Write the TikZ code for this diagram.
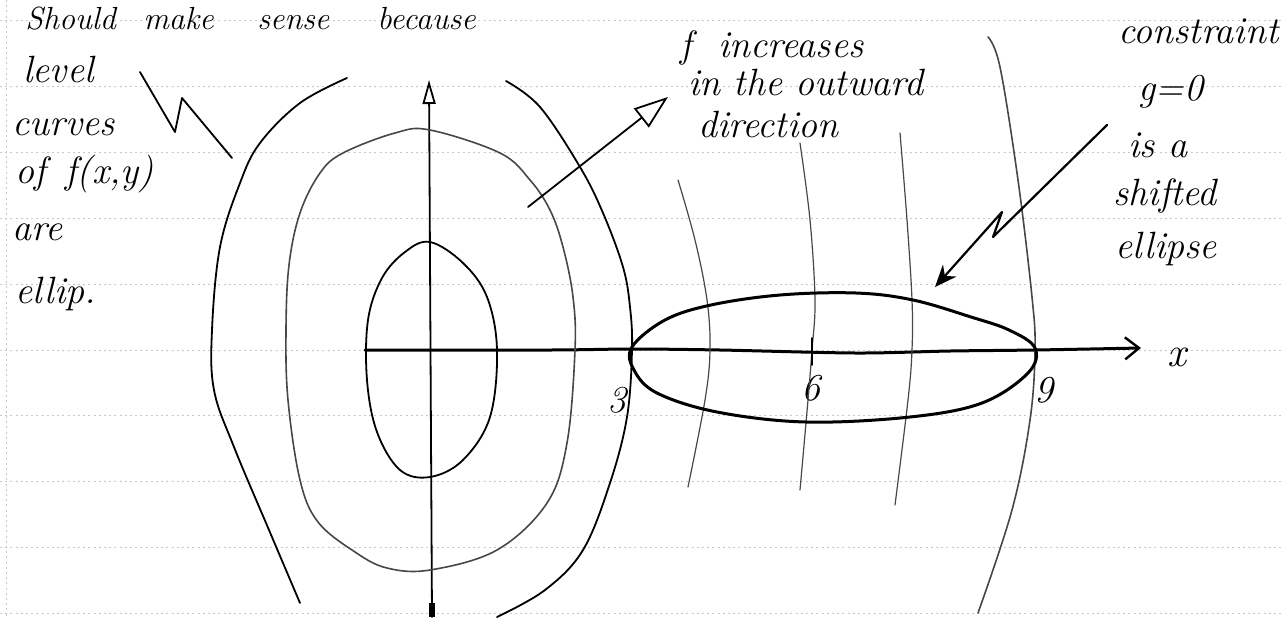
\documentclass[tikz,border=0pt]{standalone}
\usetikzlibrary{arrows.meta}
\begin{document}
\begin{tikzpicture}[x=0.5pt,y=-0.5pt,
  hand/.style={font=\fontsize{19}{20}\selectfont\itshape, inner sep=0pt, anchor=base west},
  ink/.style={line width=0.9pt, line cap=round, line join=round, black},
  thickink/.style={line width=1.5pt, line cap=round, line join=round, black},
  pencil/.style={line width=0.6pt, line cap=round, black!72},
  rule/.style={black!22, line width=0.4pt, dash pattern=on 1pt off 1.6pt}]
\useasboundingbox (0,0) rectangle (1281,617);
\fill[white] (0,0) rectangle (1281,617);
% ruled paper
\foreach \yy in {20,86,152,218,284,350,415,481,547,613} \draw[rule] (0,\yy) -- (1281,\yy);
\draw[rule] (6,0) -- (6,617);

% texts
\node[hand, font=\fontsize{16}{17}\selectfont\itshape] (t0) at (25,29) {\makebox[59pt][l]{Should}\makebox[57pt][l]{make}\makebox[60pt][l]{sense}because};
\node[hand] (t1) at (23,82) {level};
\node[hand] (t2) at (12,135) {curves};
\node[hand] (t3) at (15,183) {of \,f(x,y)};
\node[hand] (t4) at (12,240) {are};
\node[hand] (t5) at (15,303) {ellip.};
\node[hand] (u1) at (680,57) {f \ increases};
\node[hand] (u2) at (688,95) {in the outward};
\node[hand] (u3) at (698,137) {direction};
\node[hand] (c1) at (1118,43) {constraint};
\node[hand] (c2) at (1138,100) {g=0};
\node[hand] (c3) at (1128,157) {is a};
\node[hand] (c4) at (1113,205) {shifted};
\node[hand] (c5) at (1115,258) {ellipse};
\node[font=\fontsize{19}{20}\selectfont\itshape, inner sep=0pt] (l3) at (617,400) {3};
\node[font=\fontsize{19}{20}\selectfont\itshape, inner sep=0pt] (l6) at (811,388) {6};
\node[font=\fontsize{19}{20}\selectfont\itshape, inner sep=0pt] (l9) at (1044,390) {9};
\node[font=\fontsize{21}{22}\selectfont\itshape, inner sep=0pt] (xl) at (1177,357) {x};

% left zigzag
\coordinate (z1) at (140,72);
\coordinate (z4) at (232,158);
\draw[ink] (z1) -- (175,132) -- (182,98) -- (z4);

% axes
\coordinate (ybot) at (432,617);
\coordinate (ytop) at (429,80);
\draw[ink, -{Triangle[open,length=12pt,width=6.5pt,line width=0.9pt]}] (ybot) -- (ytop);
\draw[line width=2.6pt] (432,603) -- (ybot);
\coordinate (xleft) at (365,350);
\coordinate (xright) at (1141,348);
\draw[thickink, -{Straight Barb[length=7pt,width=11pt,line width=1.2pt]}]
  plot[smooth, tension=0.5] coordinates {(xleft) (550,350) (632,349) (720,350) (856,353) (950,351) (1035,350) (xright)};

% level curves of f
\draw[ink] plot[smooth cycle, tension=0.6] coordinates {(430,242) (463,263) (487,297) (497,350) (490,417) (463,460) (430,477) (400,470) (377,432) (367,380) (368,320) (382,278) (405,252)};
\draw[pencil, line width=0.8pt] plot[smooth cycle, tension=0.6] coordinates {(430,130) (500,153) (530,180) (550,210) (563,247) (573,297) (575,350) (567,443) (547,503) (497,550) (430,570) (387,568) (355,552) (318,522) (300,480) (288,400) (286,330) (289,265) (300,213) (320,173) (343,153) (395,133)};
\draw[ink] plot[smooth, tension=0.6] coordinates {(347,78) (300,103) (260,143) (240,183) (220,247) (212,330) (214,390) (234,447) (269,530) (300,603)};
\draw[ink] plot[smooth, tension=0.6] coordinates {(506,81) (540,107) (580,167) (603,213) (623,267) (630,307) (632,350) (627,417) (610,483) (583,550) (545,590) (497,617)};
\draw[pencil] plot[smooth, tension=0.6] coordinates {(678,180) (695,240) (707,300) (710,350) (705,400) (688,487)};
\draw[pencil] plot[smooth, tension=0.6] coordinates {(800,143) (810,220) (815,300) (812,350) (808,400) (800,490)};
\draw[pencil] plot[smooth, tension=0.6] coordinates {(900,133) (907,220) (912,300) (912,350) (908,400) (895,505)};
\draw[pencil, line width=0.8pt] plot[smooth, tension=0.6] coordinates {(988,37) (1000,67) (1018,180) (1032,297) (1035,350) (1030,420) (1012,510) (978,613)};

% constraint ellipse
\draw[thickink] plot[smooth cycle, tension=0.6] coordinates {(632,347) (665,320) (711,305) (780,295) (856,293) (913,300) (971,317) (1009,330) (1035,348) (1028,373) (982,403) (910,417) (806,422) (717,412) (657,393) (634,370)};
\draw[ink] (812,338) -- (812,365);

% arrows
\coordinate (fa) at (528,207);
\coordinate (fb) at (668,97);
\draw[ink, -{Triangle[open,length=17pt,width=12pt,line width=0.9pt]}] (fa) -- (fb);
\coordinate (ga) at (1107,125);
\coordinate (gb) at (935,287);
\draw[line width=1.1pt, line cap=round, line join=round, -{Stealth[length=11pt,width=9pt]}] (ga) -- (993,237) -- (1002,212) -- (gb);
\end{tikzpicture}
\end{document}
